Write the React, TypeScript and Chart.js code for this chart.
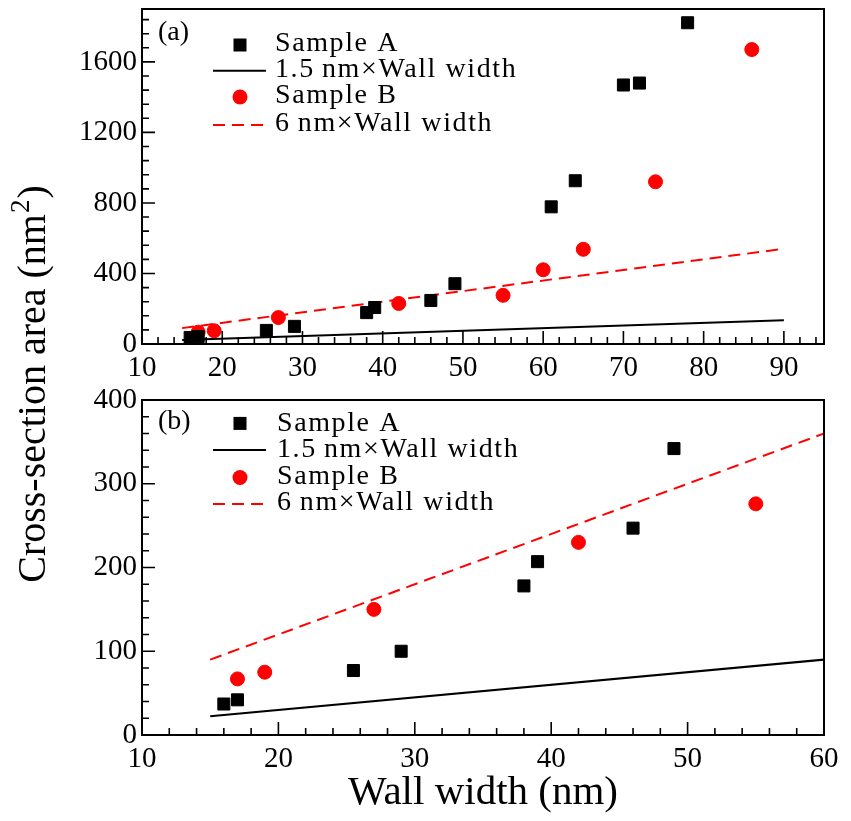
import React, { useEffect, useRef } from "react";
import { Chart, registerables } from "chart.js";

Chart.register(...registerables);

const FONT = '"Liberation Serif", "Times New Roman", serif';

// Sample A (black squares)
const wallA = [16, 17, 25.5, 29, 38, 39, 46, 49, 61, 64, 70, 72, 78];
const areaA = [37, 42, 77, 100, 178, 207, 247, 342, 778, 926, 1469, 1480, 1822];
// Sample B (red circles)
const wallB = [17, 19, 27, 42, 55, 60, 65, 74, 86];
const areaB = [67, 75, 150, 230, 276, 421, 537, 920, 1670];
// Reference lines
const fitX = [15, 90];
const fitA = [22.5, 135]; // 1.5 nm × wall width
const fitB = [90, 540]; // 6 nm × wall width

// Tick labels
const xTicksTop = [10, 20, 30, 40, 50, 60, 70, 80, 90];
const yTicksTop = [0, 400, 800, 1200, 1600];
const xTicksBottom = [10, 20, 30, 40, 50, 60];
const yTicksBottom = [0, 100, 200, 300, 400];

const legendLabels = ["Sample A", "1.5\u2009nm\u00d7Wall width", "Sample B", "6\u2009nm\u00d7Wall width"];
const panelLabels = ["(a)", "(b)"];
const xTitle = "Wall width (nm)";
const yTitleMain = "Cross-section area (nm";
const yTitleSup = "2";
const yTitleEnd = ")";

const toPts = (xs: number[], ys: number[]) => xs.map((x, i) => ({ x, y: ys[i] }));

const frameTicks = {
  id: "frameTicks",
  afterDatasetsDraw(chart: any, _a: any, o: any) {
    const { ctx, chartArea: a } = chart;
    const xs = chart.scales.x;
    const ys = chart.scales.y;
    ctx.save();
    ctx.strokeStyle = "#000";
    ctx.lineWidth = 1.6;
    ctx.beginPath();
    const majorX = xs.ticks.map((t: any) => t.value);
    const majorY = ys.ticks.map((t: any) => t.value);
    for (let i = 0; ; i++) {
      const v = xs.min + i * o.xMinor;
      if (v > xs.max + 1e-9) break;
      const px = xs.getPixelForValue(v);
      const major = majorX.some((m: number) => Math.abs(m - v) < 1e-6);
      const len = major ? 13 : 7;
      ctx.moveTo(px, a.bottom);
      ctx.lineTo(px, a.bottom - len);
    }
    for (let i = 0; ; i++) {
      const v = ys.min + i * o.yMinor;
      if (v > ys.max + 1e-9) break;
      const py = ys.getPixelForValue(v);
      const major = majorY.some((m: number) => Math.abs(m - v) < 1e-6);
      const len = major ? 13 : 7;
      ctx.moveTo(a.left, py);
      ctx.lineTo(a.left + len, py);
    }
    ctx.stroke();
    ctx.lineWidth = 2;
    ctx.strokeRect(a.left, a.top, a.right - a.left, a.bottom - a.top);
    ctx.restore();
  },
};

const panelLegend = {
  id: "panelLegend",
  afterDraw(chart: any, _a: any, o: any) {
    const { ctx, chartArea: a } = chart;
    const top = a.top;
    ctx.save();
    ctx.fillStyle = "#000";
    ctx.textBaseline = "alphabetic";
    ctx.textAlign = "left";
    ctx.font = `28px ${FONT}`;
    ctx.fillText(o.panel, 158, top + o.panelY);
    ctx.font = `28px ${FONT}`;
    (ctx as any).letterSpacing = "1.6px";
    const mx = 240;
    o.rows.forEach((r: any, i: number) => {
      const y = top + r.my;
      ctx.save();
      if (r.kind === "square") {
        ctx.fillStyle = "#000";
        ctx.fillRect(mx - 6.5, y - 6.5, 13, 13);
      } else if (r.kind === "circle") {
        ctx.fillStyle = "#ff0000";
        ctx.beginPath();
        ctx.arc(mx, y, 7.5, 0, Math.PI * 2);
        ctx.fill();
      } else {
        ctx.strokeStyle = r.color;
        ctx.lineWidth = 2;
        ctx.setLineDash(r.dash);
        ctx.beginPath();
        ctx.moveTo(213, y);
        ctx.lineTo(266, y);
        ctx.stroke();
      }
      ctx.restore();
      ctx.fillStyle = "#000";
      ctx.fillText(legendLabels[i], o.textX, top + r.base);
    });
    (ctx as any).letterSpacing = "0px";
    ctx.restore();
  },
};

const yTitlePlugin = {
  id: "yTitlePlugin",
  afterDraw(chart: any, _a: any, o: any) {
    if (!o || !o.show) return;
    const ctx = chart.ctx;
    ctx.save();
    ctx.translate(31, 384);
    ctx.rotate(-Math.PI / 2);
    ctx.fillStyle = "#000";
    ctx.textBaseline = "alphabetic";
    ctx.textAlign = "left";
    const big = `40px ${FONT}`;
    const small = `27px ${FONT}`;
    ctx.font = big;
    const w1 = ctx.measureText(yTitleMain).width;
    const w3 = ctx.measureText(yTitleEnd).width;
    ctx.font = small;
    const w2 = ctx.measureText(yTitleSup).width;
    const total = w1 + w2 + w3 + 2;
    const x = -total / 2;
    const base = 13.5;
    ctx.font = big;
    ctx.fillText(yTitleMain, x, base);
    ctx.font = small;
    ctx.fillText(yTitleSup, x + w1 + 1, base - 16);
    ctx.font = big;
    ctx.fillText(yTitleEnd, x + w1 + w2 + 2, base);
    ctx.restore();
  },
};

function makeConfig(p: any): any {
  const tickFont = { family: FONT, size: 29 };
  return {
    type: "scatter",
    data: {
      datasets: [
        {
          label: legendLabels[0],
          data: toPts(wallA, areaA),
          pointStyle: "rect",
          pointRadius: 8.5,
          backgroundColor: "#000",
          borderColor: "#000",
          borderWidth: 1,
          showLine: false,
        },
        {
          label: legendLabels[2],
          data: toPts(wallB, areaB),
          pointStyle: "circle",
          pointRadius: 7,
          backgroundColor: "#ff0000",
          borderColor: "#ff0000",
          borderWidth: 1,
          showLine: false,
        },
        {
          label: legendLabels[1],
          data: toPts(fitX, fitA),
          showLine: true,
          borderColor: "#000",
          borderWidth: 2,
          pointRadius: 0,
          fill: false,
        },
        {
          label: legendLabels[3],
          data: toPts(fitX, fitB),
          showLine: true,
          borderColor: "#ff0000",
          borderWidth: 2,
          borderDash: [12, 7],
          pointRadius: 0,
          fill: false,
        },
      ],
    },
    options: {
      responsive: false,
      animation: false,
      events: [],
      layout: {
        autoPadding: false,
        padding: { left: 0, right: 27, top: p.padTop, bottom: p.padBottom },
      },
      plugins: {
        legend: { display: false },
        tooltip: { enabled: false },
        frameTicks: { xMinor: 2, yMinor: p.yMinor },
        panelLegend: p.legend,
        yTitlePlugin: { show: p.showYTitle },
      },
      scales: {
        x: {
          type: "linear",
          min: p.xMin,
          max: p.xMax,
          grid: { display: false, drawTicks: false },
          border: { display: false },
          afterBuildTicks: (s: any) => {
            s.ticks = p.xTicks.map((v: number) => ({ value: v }));
          },
          ticks: {
            autoSkip: false,
            maxRotation: 0,
            padding: 7,
            color: "#000",
            font: tickFont,
            callback: (v: any) => String(v),
          },
          title: p.showXTitle
            ? {
                display: true,
                text: xTitle,
                color: "#000",
                font: { family: FONT, size: 41 },
                padding: { top: 0, bottom: 3 },
              }
            : { display: false },
          afterFit: (s: any) => {
            s.height = p.xHeight;
            s.paddingLeft = 0;
            s.paddingRight = 0;
            s.paddingTop = 0;
            s.paddingBottom = 0;
          },
        },
        y: {
          type: "linear",
          min: 0,
          max: p.yMax,
          grid: { display: false, drawTicks: false },
          border: { display: false },
          afterBuildTicks: (s: any) => {
            s.ticks = p.yTicks.map((v: number) => ({ value: v }));
          },
          ticks: {
            autoSkip: false,
            padding: 5,
            color: "#000",
            font: tickFont,
            callback: (v: any) => String(v),
          },
          afterFit: (s: any) => {
            s.width = 142;
            s.paddingLeft = 0;
            s.paddingRight = 0;
            s.paddingTop = 0;
            s.paddingBottom = 0;
          },
        },
      },
    },
    plugins: [frameTicks, panelLegend, yTitlePlugin],
  };
}

export default function App() {
  const topRef = useRef<HTMLCanvasElement | null>(null);
  const botRef = useRef<HTMLCanvasElement | null>(null);

  useEffect(() => {
    Chart.defaults.font.family = FONT;
    const top = new Chart(
      topRef.current as HTMLCanvasElement,
      makeConfig({
        xMin: 10,
        xMax: 95,
        xTicks: xTicksTop,
        yMax: 1900,
        yTicks: yTicksTop,
        yMinor: 80,
        padTop: 9,
        padBottom: 437,
        xHeight: 40,
        showXTitle: false,
        showYTitle: true,
        legend: {
          panel: panelLabels[0],
          panelY: 31,
          textX: 275,
          rows: [
            { kind: "square", my: 36, base: 41.7 },
            { kind: "line", color: "#000", dash: [], my: 61.7, base: 67.7 },
            { kind: "circle", my: 88, base: 94 },
            { kind: "line", color: "#ff0000", dash: [12, 7], my: 116, base: 121.7 },
          ],
        },
      })
    );
    const bot = new Chart(
      botRef.current as HTMLCanvasElement,
      makeConfig({
        xMin: 10,
        xMax: 60,
        xTicks: xTicksBottom,
        yMax: 400,
        yTicks: yTicksBottom,
        yMinor: 20,
        padTop: 20,
        padBottom: 0,
        xHeight: 86,
        showXTitle: true,
        showYTitle: false,
        legend: {
          panel: panelLabels[1],
          panelY: 28.5,
          textX: 277,
          rows: [
            { kind: "square", my: 23.4, base: 30.8 },
            { kind: "line", color: "#000", dash: [], my: 50, base: 56.8 },
            { kind: "circle", my: 77.5, base: 83.5 },
            { kind: "line", color: "#ff0000", dash: [12, 7], my: 104, base: 110 },
          ],
        },
      })
    );
    return () => {
      top.destroy();
      bot.destroy();
    };
  }, []);

  return (
    <div
      style={{
        position: "fixed",
        left: 0,
        top: 0,
        width: 851,
        height: 821,
        background: "#fff",
      }}
    >
      <canvas
        ref={topRef}
        width={851}
        height={821}
        style={{ position: "absolute", left: 0, top: 0, width: 851, height: 821 }}
      />
      <canvas
        ref={botRef}
        width={851}
        height={441}
        style={{ position: "absolute", left: 0, top: 380, width: 851, height: 441 }}
      />
    </div>
  );
}
